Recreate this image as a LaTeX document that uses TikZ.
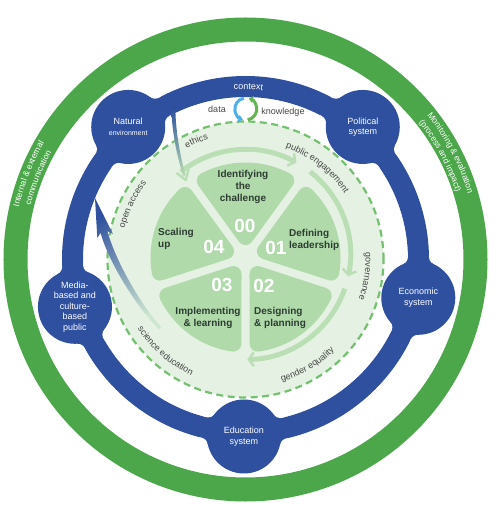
\documentclass[tikz,border=0pt]{standalone}
\usepackage{fontspec}
\setmainfont{Liberation Sans}
\usetikzlibrary{arrows.meta, calc, decorations.text}
\definecolor{ringgreen}{RGB}{76,166,74}
\definecolor{ringblue}{RGB}{46,80,158}
\definecolor{discfill}{RGB}{229,242,227}
\definecolor{dashgreen}{RGB}{115,192,110}
\definecolor{petalfill}{RGB}{176,218,170}
\definecolor{cyclegreen}{RGB}{186,223,180}
\definecolor{fadegreen}{RGB}{205,230,208}
\definecolor{petaltext}{RGB}{45,60,50}
\definecolor{labelgray}{RGB}{70,70,70}
\definecolor{iconblue}{RGB}{80,175,230}
\definecolor{icongreen}{RGB}{100,180,80}
\tikzstyle{sysnode} = [circle, fill=ringblue, minimum size=74pt, inner sep=0pt, text=white, align=center, font=\fontsize{9}{10.5}\selectfont]
\tikzstyle{petal} = [fill=petalfill, draw=petalfill, line width=16pt, line join=round]
\tikzstyle{steplabel} = [inner sep=0pt, align=center, text=petaltext, font=\bfseries\fontsize{10}{12}\selectfont]
\tikzstyle{stepnum} = [inner sep=0pt, text=white, font=\bfseries\fontsize{19}{19}\selectfont]
\tikzstyle{iconlabel} = [inner sep=0pt, text=labelgray, font=\fontsize{9}{9}\selectfont]
\tikzstyle{cyclearrow} = [draw=cyclegreen, line width=5pt, -{Straight Barb[length=5pt,width=14pt,line width'=2.5pt]}]
\tikzset{pathlabel/.style={decorate, decoration={text along path, text align=center, text={|\fontsize{9}{9}\selectfont\color{labelgray}|#1}}},
    ringlabel/.style={decorate, decoration={text along path, text align=center, text={|\fontsize{9}{9}\selectfont\color{white}|#1}}},
    bandlabel/.style={decorate, decoration={text along path, text align=center, text={|\fontsize{8.5}{8.5}\selectfont\color{white}|#1}}}}

\begin{document}
\begin{tikzpicture}[x=1pt, y=1pt]
    \path[use as bounding box, fill=white] (-245.5,-245.5) rectangle (250.5,259.5);
    \draw[ringgreen, line width=24pt] (0,0) circle (230);
    \draw[ringblue, line width=21pt] (0,0) circle (173);
    \foreach \a in {131.5,48.5,-12.5,-90.5,-164.5} {
        \foreach \s in {1,-1} {
            \fill[ringblue] (\a:177) -- ({\a+\s*13.3}:183.5) -- ({\a+\s*13.3}:191.5) -- ($(\a:177)!0.822!({\a+\s*13.3}:191.5)$) -- cycle;
            \fill[ringblue] (\a:177) -- ({\a+\s*13.5}:162.5) -- ({\a+\s*13.5}:154.5) -- ($(\a:177)!0.822!({\a+\s*13.5}:154.5)$) -- cycle;
            \fill[white] ({\a+\s*13.3}:191.5) circle (8);
            \fill[white] ({\a+\s*13.5}:154.5) circle (8);
        }
    }
    \node (natural) [sysnode] at (131.5:177) {Natural\\{\fontsize{7}{8}\selectfont environment}};
    \node (political) [sysnode] at (48.5:177) {Political\\system};
    \node (economic) [sysnode] at (-12.5:177) {Economic\\system};
    \node (education) [sysnode] at (-90.5:177) {Education\\system};
    \node (media) [sysnode] at (-164.5:177) {Media-\\based and\\culture-\\based\\public};

    \draw[fill=discfill, draw=dashgreen, line width=2.2pt, dash pattern=on 7pt off 4.5pt] (0,0) circle (138);
    \begin{scope}[shift={(0,2)}]
        \foreach \a in {90,18,-54,-126,162}
            \filldraw[petal] (\a:20.4) -- ({\a+28}:87) arc[start angle={\a+28}, end angle={\a-28}, radius=87] -- cycle;
    \end{scope}
    \begin{scope}[shift={(0,5)}]
        \draw[cyclearrow] (128:105) arc[start angle=128, end angle=61, radius=105];
        \draw[cyclearrow] (52:105) arc[start angle=52, end angle=-12, radius=105];
        \draw[cyclearrow] (-19:105) arc[start angle=-19, end angle=-89, radius=105];
    \end{scope}

    \shade[top color=ringblue, bottom color=cyclegreen] (-70.2,151.2) .. controls (-69.7,125) and (-64.5,100) .. (-59.8,84) -- (-62.2,83.4) .. controls (-67.5,99.6) and (-73.5,125) .. (-74.2,151.2) -- cycle;
    \draw[cyclegreen, line width=2.5pt, line cap=round, line join=round] (-57,90) -- (-59.8,79.5) -- (-68.4,86.1);
    \shade[top color=ringblue, middle color=ringblue!75!fadegreen, bottom color=fadegreen, shading angle=27] (-86.6,-69.6) .. controls (-108.3,-48.5) and (-137.1,-2.5) .. (-144.9,26.6) -- (-148.2,21.5) -- (-150.5,61.5) -- (-132.7,25.7) -- (-138.1,28.4) .. controls (-130.3,-0.7) and (-104.9,-45.3) .. (-84.4,-67.4) -- cycle;

    \path[ringlabel=context] (110:170) arc[start angle=110, end angle=68, radius=170];
    \path[bandlabel={Internal {\&} external}] (200:232.5) arc[start angle=200, end angle=117, radius=232.5];
    \path[bandlabel=communication] (200:221.5) arc[start angle=200, end angle=117, radius=221.5];
    \path[bandlabel={Monitoring {\&} evaluation}] (70:232) arc[start angle=70, end angle=-15, radius=232];
    \path[bandlabel={(process and impact)}] (70.5:221) arc[start angle=70.5, end angle=-14.5, radius=221];

    \path[pathlabel=ethics] (135:126) arc[start angle=135, end angle=90, radius=126];
    \path[pathlabel=public engagement] (82:119) arc[start angle=82, end angle=22, radius=119];
    \path[pathlabel=governance] (22:120) arc[start angle=22, end angle=-38, radius=120];
    \path[pathlabel=open access] (185:125) arc[start angle=185, end angle=123, radius=125];
    \path[pathlabel=gender equality] (-90:127.5) arc[start angle=-90, end angle=-29.2, radius=127.5];
    \path[pathlabel=science education] (-160:128) arc[start angle=-160, end angle=-102.4, radius=128];

    \node (idtext) [steplabel] at (-2.5,72.5) {Identifying\\the\\challenge};
    \node (deftext) [steplabel, anchor=west, align=left] at (43.5,19.5) {Defining\\leadership};
    \node (destext) [steplabel, anchor=west, align=left] at (8.5,-58.5) {Designing\\\& planning};
    \node (imptext) [steplabel] at (-37.5,-58.5) {Implementing\\\& learning};
    \node (scaletext) [steplabel, anchor=west, align=left] at (-87.5,20.5) {Scaling\\up};
    \node (n00) [stepnum] at (-0.5,33.5) {00};
    \node (n01) [stepnum] at (30.5,11.5) {01};
    \node (n02) [stepnum] at (18.5,-26.5) {02};
    \node (n03) [stepnum] at (-23.5,-25.5) {03};
    \node (n04) [stepnum] at (-31.5,12.5) {04};

    \coordinate (icon) at (0.3,150.5);
    \draw[iconblue, line width=3pt, -{Triangle[length=4.5pt,width=7pt]}] ($(icon)+(100:11)$) arc[start angle=100, end angle=255, radius=11];
    \draw[icongreen, line width=3pt, -{Triangle[length=4.5pt,width=7pt]}] ($(icon)+(280:11)$) arc[start angle=280, end angle=435, radius=11];
    \node (data) [iconlabel] at (-28.5,150.5) {data};
    \node (knowledge) [iconlabel] at (37.5,147.5) {knowledge};
\end{tikzpicture}
\end{document}
